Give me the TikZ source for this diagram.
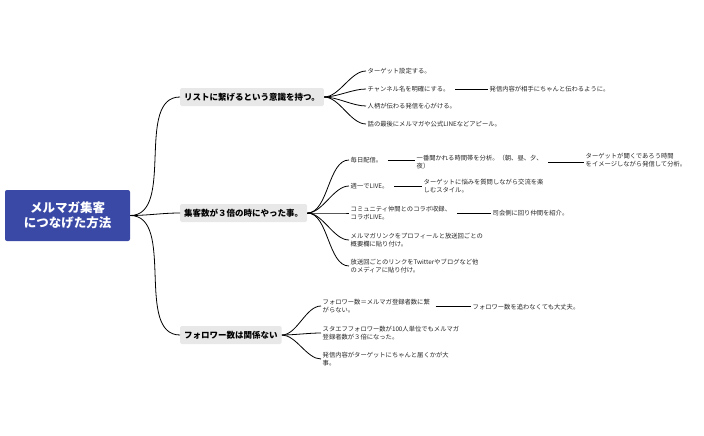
\documentclass[tikz,border=0pt]{standalone}
\usepackage{fontspec}
\setmainfont{Noto Sans CJK JP}
\begin{document}
\begin{tikzpicture}[x=1pt,y=-1pt,
  root/.style={fill=rootblue,text=white,font=\fontsize{12.5}{15}\selectfont\bfseries,align=center,minimum width=125,minimum height=51,rounded corners=2,inner sep=2},
  br/.style={fill=black!9,font=\fontsize{8.5}{10}\selectfont\bfseries,minimum height=18,inner sep=4,rounded corners=1.5},
  lf/.style={anchor=west,align=left,font=\fontsize{6.3}{8.5}\selectfont,inner sep=1.5,text=black!85},
  ln/.style={line width=0.8pt,black}]
\definecolor{rootblue}{HTML}{3A49A6}
\useasboundingbox (0,0) rectangle (704,436);
\node[root] (r) at (67.5,215.5) {メルマガ集客\\につなげた方法};
\node[br,anchor=west] (b1) at (180,97) {リストに繋げるという意識を持つ。};
\node[br,anchor=west] (b2) at (180,213) {集客数が３倍の時にやった事。};
\node[br,anchor=west] (b3) at (180,335) {フォロワー数は関係ない};
\foreach \b in {b1,b2,b3}
  \draw[ln] (r.east) to[out=0,in=180,looseness=0.9] (\b.west);
% branch 1
\node[lf] (a1) at (366,71) {ターゲット設定する。};
\node[lf] (a2) at (366,89) {チャンネル名を明確にする。};
\node[lf] (a2x) at (488,89) {発信内容が相手にちゃんと伝わるように。};
\node[lf] (a3) at (366,106) {人柄が伝わる発信を心がける。};
\node[lf] (a4) at (366,124) {話の最後にメルマガや公式LINEなどアピール。};
\foreach \l in {a1,a2,a3,a4}
  \draw[ln] (b1.east) to[out=0,in=180,looseness=0.8] (\l.west);
\draw[ln] (a2.east)+(4,0) -- (a2x.west);
% branch 2
\node[lf] (c1) at (349,160) {毎日配信。};
\node[lf] (c1x) at (415,162) {一番聞かれる時間帯を分析。（朝、昼、夕、\\夜）};
\node[lf] (c1y) at (584,160) {ターゲットが聞くであろう時間\\をイメージしながら発信して分析。};
\node[lf] (c2) at (349,186) {週一でLIVE。};
\node[lf] (c2x) at (422,186) {ターゲットに悩みを質問しながら交流を楽\\しむスタイル。};
\node[lf] (c3) at (349,213) {コミュニティ仲間とのコラボ収録、\\コラボLIVE。};
\node[lf] (c3x) at (491,213) {司会側に回り仲間を紹介。};
\node[lf] (c4) at (349,240) {メルマガリンクをプロフィールと放送回ごとの\\概要欄に貼り付け。};
\node[lf] (c5) at (349,266) {放送回ごとのリンクをTwitterやブログなど他\\のメディアに貼り付け。};
\foreach \l in {c1,c2,c3,c4,c5}
  \draw[ln] (b2.east) to[out=0,in=180,looseness=0.8] (\l.west);
\draw[ln] ([xshift=4]c1.east) -- (c1x.west|-c1.east);
\draw[ln] ([xshift=4]c1x.east) -- (c1y.west|-c1x.east);
\draw[ln] ([xshift=4]c2.east) -- (c2x.west|-c2.east);
\draw[ln] ([xshift=4]c3.east) -- (c3x.west);
% branch 3
\node[lf] (d1) at (321,306) {フォロワー数＝メルマガ登録者数に繋\\がらない。};
\node[lf] (d1x) at (471,307) {フォロワー数を追わなくても大丈夫。};
\node[lf] (d2) at (321,333) {スタエフフォロワー数が100人単位でもメルマガ\\登録者数が３倍になった。};
\node[lf] (d3) at (321,359) {発信内容がターゲットにちゃんと届くかが大\\事。};
\foreach \l in {d1,d2,d3}
  \draw[ln] (b3.east) to[out=0,in=180,looseness=0.8] (\l.west);
\draw[ln] ([xshift=4]d1.east) -- (d1x.west|-d1.east);
\end{tikzpicture}
\end{document}
